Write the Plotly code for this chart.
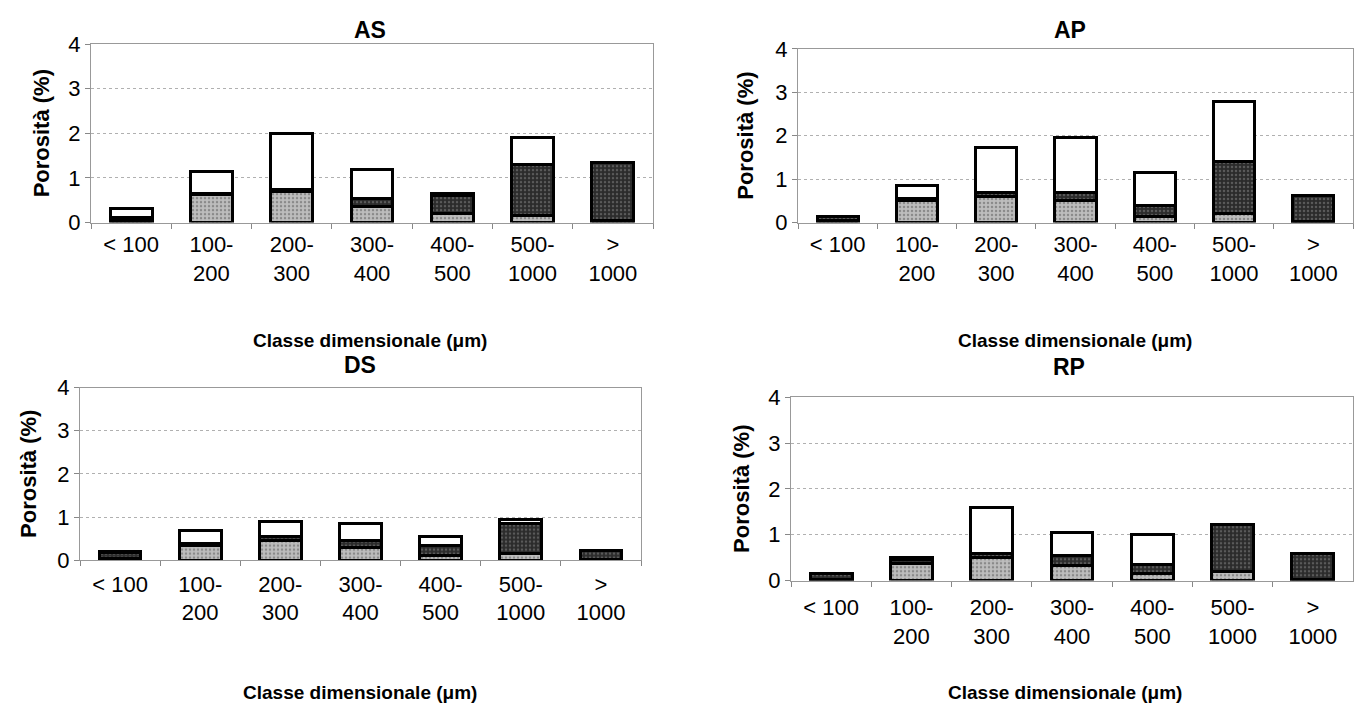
import plotly.graph_objects as go

categories = ["< 100", "100-200", "200-300", "300-400", "400-500", "500-1000", "> 1000"]
tick_labels = ["< 100", "100-<br>200", "200-<br>300", "300-<br>400", "400-<br>500", "500-<br>1000", "><br>1000"]
panels = ["AS", "AP", "DS", "RP"]

# stacked components: light (bottom), dark (middle), white (top)
AS_light = [0.05, 0.62, 0.70, 0.35, 0.20, 0.15, 0.05]
AS_dark  = [0.07, 0.03, 0.05, 0.20, 0.40, 1.15, 1.30]
AS_white = [0.20, 0.50, 1.25, 0.65, 0.05, 0.60, 0.00]

AP_light = [0.05, 0.50, 0.60, 0.50, 0.15, 0.20, 0.02]
AP_dark  = [0.08, 0.05, 0.10, 0.20, 0.25, 1.20, 0.60]
AP_white = [0.02, 0.30, 1.02, 1.25, 0.75, 1.40, 0.00]

DS_light = [0.05, 0.35, 0.45, 0.30, 0.10, 0.15, 0.02]
DS_dark  = [0.13, 0.05, 0.10, 0.15, 0.25, 0.70, 0.20]
DS_white = [0.02, 0.30, 0.35, 0.40, 0.20, 0.10, 0.00]

RP_light = [0.02, 0.38, 0.50, 0.33, 0.15, 0.20, 0.02]
RP_dark  = [0.13, 0.07, 0.10, 0.22, 0.20, 1.02, 0.58]
RP_white = [0.00, 0.05, 1.00, 0.50, 0.65, 0.00, 0.00]

data = {
    "AS": (AS_light, AS_dark, AS_white),
    "AP": (AP_light, AP_dark, AP_white),
    "DS": (DS_light, DS_dark, DS_white),
    "RP": (RP_light, RP_dark, RP_white),
}

W, H = 1363, 710
# plot area boxes in pixels: x0, x1, ytop, ybottom
boxes = {
    "AS": (83, 645, 25, 210),
    "AP": (790, 1345, 30, 210),
    "DS": (72, 633, 381, 560),
    "RP": (783, 1345, 391, 581),
}
standoff = {"AS": 2, "AP": 2, "DS": 4, "RP": 7}
title_pos = {"AS": (362, 10), "AP": (1062, 10), "DS": (352, 358), "RP": (1061, 360)}
xtitle_pos = {"AS": (362, 332), "AP": (1067, 332), "DS": (352, 697), "RP": (1057, 697)}
ytitle_x = {"AS": 33, "AP": 738, "DS": 21, "RP": 734}

fills = [("#bdbdbd", "."), ("#2b2b2b", "."), ("#ffffff", "")]
font = "Liberation Sans, Arial, sans-serif"

fig = go.Figure()
annotations = []
for i, p in enumerate(panels):
    n = "" if i == 0 else str(i + 1)
    x0, x1, yt, yb = boxes[p]
    for (col, pat), vals in zip(fills, data[p]):
        fig.add_trace(go.Bar(
            x=categories, y=vals, xaxis="x" + n, yaxis="y" + n,
            width=0.52, showlegend=False,
            marker=dict(color=col, line=dict(color="black", width=3),
                        pattern=dict(shape=pat, fgcolor="#555555" if col != "#2b2b2b" else "#888888",
                                     size=4, solidity=0.3) if pat else None),
        ))
    fig.layout["xaxis" + n] = dict(
        domain=[x0 / W, x1 / W], anchor="y" + n, type="category",
        tickvals=categories, ticktext=tick_labels, tickson="boundaries",
        ticks="outside", ticklen=5, tickcolor="#888", showgrid=False,
        showline=True, linecolor="#999", mirror=True, ticklabelstandoff=standoff[p],
        tickfont=dict(family=font, size=22, color="black"), tickangle=0,
    )
    fig.layout["yaxis" + n] = dict(
        domain=[1 - yb / H, 1 - yt / H], anchor="x" + n, range=[0, 4],
        tickvals=[0, 1, 2, 3, 4], ticks="outside", ticklen=5, tickcolor="#888",
        showgrid=True, gridcolor="#b0b0b0", griddash="dot", gridwidth=1,
        showline=True, linecolor="#999", mirror=True, zeroline=False,
        tickfont=dict(family=font, size=22, color="black"),
    )
    tx, ty = title_pos[p]
    annotations.append(dict(x=tx / W, y=1 - ty / H, xref="paper", yref="paper", text="<b>%s</b>" % p,
                            showarrow=False, xanchor="center", yanchor="middle",
                            font=dict(family=font, size=23, color="black")))
    ax, ay = xtitle_pos[p]
    annotations.append(dict(x=ax / W, y=1 - ay / H, xref="paper", yref="paper",
                            text="<b>Classe dimensionale (μm)</b>", xanchor="center", yanchor="middle",
                            showarrow=False, font=dict(family=font, size=19, color="black")))
    annotations.append(dict(x=ytitle_x[p] / W, y=1 - ((yt + yb) / 2) / H, xref="paper", yref="paper",
                            text="<b>Porosità (%)</b>", textangle=-90, xanchor="center", yanchor="middle",
                            showarrow=False, font=dict(family=font, size=22, color="black")))

fig.update_layout(
    barmode="stack", width=W, height=H, margin=dict(l=0, r=0, t=0, b=0),
    paper_bgcolor="white", plot_bgcolor="white", annotations=annotations, bargap=0.5,
)
fig.write_html("out.html")
